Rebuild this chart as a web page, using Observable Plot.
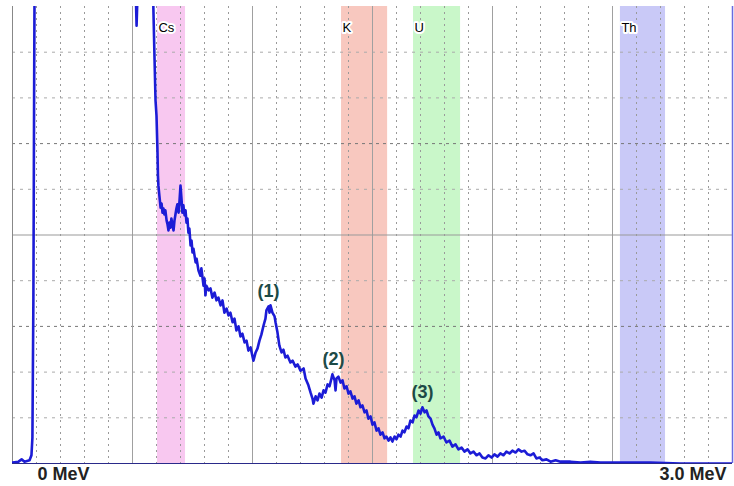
<!DOCTYPE html>
<html><head><meta charset="utf-8">
<script src="https://cdn.jsdelivr.net/npm/d3@7"></script>
<script src="https://cdn.jsdelivr.net/npm/@observablehq/plot@0.6"></script>
<style>body{margin:0;background:#fff}#chart{width:734px;height:486px}</style>
</head><body><div id="chart"></div>
<script>
// Gamma spectrum: energy in keV, counts in arbitrary units (0–1000 full scale)
const energyKeV = [
  0,25,38,50,71,79,83,87,90,92,
  200,367,508,517,525,583,587,592,596,600,
  604,606,608,612,617,621,625,629,633,637,
  642,646,650,654,658,662,667,671,675,679,
  683,687,692,696,700,704,708,712,717,721,
  725,729,733,737,742,746,750,754,763,767,
  775,783,787,796,800,804,808,817,825,833,
  842,850,858,867,875,883,892,900,908,917,
  925,933,942,950,958,967,975,983,992,1000,
  1004,1013,1021,1029,1037,1046,1054,1058,1067,1071,
  1075,1083,1092,1096,1104,1112,1121,1129,1137,1146,
  1158,1167,1179,1188,1200,1213,1221,1233,1242,1250,
  1254,1263,1271,1279,1288,1296,1304,1313,1321,1329,
  1333,1342,1346,1350,1358,1367,1375,1383,1392,1400,
  1408,1417,1425,1433,1442,1450,1458,1467,1475,1483,
  1492,1500,1508,1517,1525,1533,1542,1550,1558,1567,
  1575,1583,1592,1600,1608,1617,1625,1633,1642,1650,
  1658,1667,1675,1683,1692,1700,1708,1717,1725,1733,
  1742,1750,1758,1767,1775,1783,1796,1808,1821,1833,
  1846,1858,1871,1883,1896,1908,1921,1933,1946,1958,
  1971,1983,1996,2008,2021,2033,2046,2058,2071,2083,
  2096,2108,2121,2133,2146,2158,2171,2183,2196,2208,
  2225,2242,2263,2283,2325,2367,2408,2450,2533,2658,
  2783,2908,3000
];
const counts = [
  2,4,9,4,7,18,57,357,794,1057,
  1200,1250,1150,958,1100,1150,996,882,794,761,
  685,630,608,586,560,569,549,558,545,554,
  532,523,510,527,516,536,521,510,532,545,
  558,567,549,575,608,580,549,565,543,554,
  527,536,505,514,477,488,462,470,440,448,
  422,411,427,389,405,368,389,379,383,363,
  374,357,363,346,357,330,339,324,330,309,
  317,291,300,278,284,265,269,247,254,234,
  225,243,252,269,282,302,317,335,344,330,
  346,330,322,309,287,258,243,249,232,236,
  221,225,212,217,203,208,186,171,155,142,
  131,147,138,153,144,160,155,173,169,186,
  195,182,160,186,190,177,182,164,169,153,
  158,142,147,131,138,123,127,112,116,98,
  103,85,90,72,77,63,68,55,59,50,
  57,48,59,53,63,59,72,68,81,77,
  94,90,105,101,116,109,123,112,116,103,
  98,85,77,63,68,55,59,46,50,37,
  42,31,35,26,31,22,26,18,22,13,
  11,18,13,20,15,22,18,26,22,28,
  24,31,26,28,20,18,22,11,13,7,
  9,4,7,4,4,2,4,2,2,2,
  0,0,0
];

// Energy windows (keV)
const bandNames = ["Cs","K","U","Th"];
const bandStart = [604,1371,1671,2533];
const bandEnd   = [721,1563,1867,2721];
const bandColors = ["#f8c8f0","#f8c8bf","#c9f7c9","#c9c9f7"];

// Peak annotations
const peakLabels = ["(1)","(2)","(3)"];
const peakEnergy = [1067,1338,1708];
const peakCounts = [344,195,123];

// Axis labels
const axisTicks = [0,3000];
const axisLabels = ["0 MeV","3.0 MeV"];

// Grid
const majorX = d3.range(0,3001,500);
const minorX = d3.range(0,3001,100).filter(v => v % 500 !== 0);
const gridY = d3.range(100,1000,100).filter(v => v !== 500);
const darkY = [300,700];

const spectrum = energyKeV.map((e,i) => ({e, c: counts[i]}));
const bands = bandNames.map((n,i) => ({name:n, x1:bandStart[i], x2:bandEnd[i], fill:bandColors[i]}));
const peaks = peakLabels.map((t,i) => ({t, e:peakEnergy[i], c:peakCounts[i]}));
const axisText = axisTicks.map((e,i) => ({e, t:axisLabels[i]}));

const font = "'Liberation Sans', Arial, sans-serif";

const chart = Plot.plot({
  width: 734, height: 486,
  marginLeft: 12, marginRight: 2, marginTop: 6, marginBottom: 23,
  x: {domain:[0,3000], axis:null},
  y: {domain:[0,1000], axis:null},
  style: {background:"#fff", fontFamily: font},
  marks: [
    Plot.rect(bands, {x1:"x1", x2:"x2", fill:"fill"}),
    Plot.ruleX(minorX, {stroke:"#9a9a9a", strokeDasharray:"2,4", strokeWidth:1}),
    Plot.ruleY(gridY.filter(v => !darkY.includes(v)), {stroke:"#aaa", strokeDasharray:"3,5", strokeWidth:1}),
    Plot.ruleY(darkY, {stroke:"#777", strokeDasharray:"3,4", strokeWidth:1}),
    Plot.ruleX(majorX.filter(v => v > 0 && v < 3000), {stroke:"#a0a0a0", strokeWidth:1}),
    Plot.ruleY([500], {stroke:"#999", strokeWidth:1}),
    Plot.ruleX([0], {stroke:"#888", strokeWidth:1}),
    Plot.ruleX([3000], {stroke:"#6a6ae0", strokeWidth:1.5}),
    Plot.ruleY([0], {stroke:"#2a2a8a", strokeWidth:1.2}),
    Plot.line(spectrum, {x:"e", y:"c", stroke:"#1c1cd6", strokeWidth:2.6, clip:true}),
    Plot.text(bands, {x:"x1", text:"name", frameAnchor:"top", dy:16, dx:1, textAnchor:"start",
      fontSize:13, fill:"#000", stroke:"#fff", strokeWidth:4, paintOrder:"stroke"}),
    Plot.text(peaks, {x:"e", y:"c", text:"t", lineAnchor:"bottom", dy:-9,
      fontSize:18, fontWeight:"bold", fill:"#1d4a46"}),
    Plot.text(axisText.filter(d => d.e === 0), {x:"e", text:"t", frameAnchor:"bottom", dy:16, dx:25,
      textAnchor:"start", fontSize:18, fontWeight:"bold", fill:"#222"}),
    Plot.text(axisText.filter(d => d.e === 3000), {x:"e", text:"t", frameAnchor:"bottom", dy:16, dx:-6,
      textAnchor:"end", fontSize:18, fontWeight:"bold", fill:"#222"})
  ]
});
document.getElementById("chart").appendChild(chart);
</script>
</body></html>
